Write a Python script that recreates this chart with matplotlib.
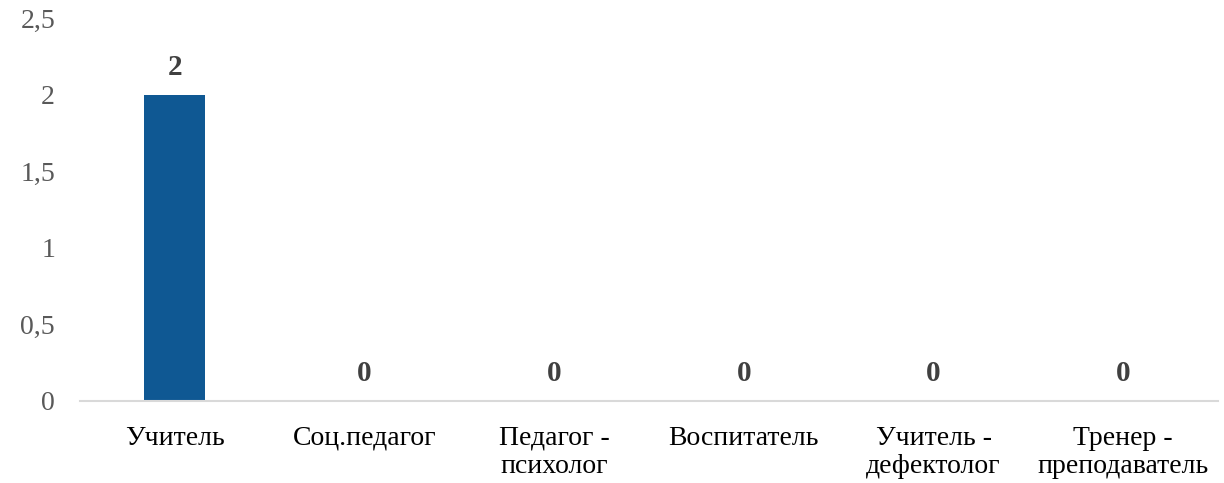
import numpy as np
import matplotlib.pyplot as plt

categories = ["Учитель", "Соц.педагог", "Педагог -\nпсихолог", "Воспитатель",
              "Учитель -\nдефектолог", "Тренер -\nпреподаватель"]
values = [2, 0, 0, 0, 0, 0]
yticks = [0, 0.5, 1, 1.5, 2, 2.5]
ytick_labels = ["0", "0,5", "1", "1,5", "2", "2,5"]

plt.rcParams['font.family'] = ['Liberation Serif', 'DejaVu Serif']

fig = plt.figure(figsize=(12.24, 4.83), dpi=100)
ax = fig.add_axes([80 / 1224, 82 / 483, 1138 / 1224, 383 / 483])

x = np.arange(len(categories))
bars = ax.bar(x, values, width=0.32, color='#0F5893')

for xi, v in zip(x, values):
    ax.text(xi, v + 0.09, str(v), ha='center', va='bottom', fontsize=21,
            fontweight='bold', color='#404040')

ax.set_xlim(-0.5, len(categories) - 0.5)
ax.set_ylim(0, 2.5)
ax.set_yticks(yticks)
ax.set_yticklabels(ytick_labels, fontsize=20, color='#595959')
ax.set_xticks(x)
ax.set_xticklabels(categories, fontsize=20, color='black', linespacing=1.15)
ax.tick_params(axis='y', length=0, pad=18)
ax.tick_params(axis='x', length=0, pad=18)

for side in ['top', 'right', 'left']:
    ax.spines[side].set_visible(False)
ax.spines['bottom'].set_color('#D9D9D9')
ax.spines['bottom'].set_linewidth(1.5)

fig.savefig('out.png', dpi=100)
